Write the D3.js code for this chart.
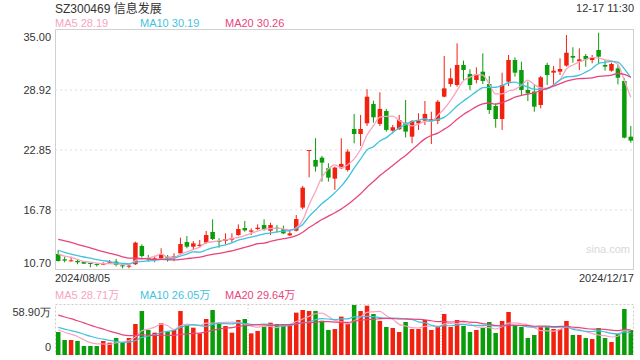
<!DOCTYPE html>
<html>
<head>
<meta charset="utf-8">
<script src="https://cdn.jsdelivr.net/npm/d3@7/dist/d3.min.js"></script>
<style>
  body { margin: 0; background: #fff; }
  svg { display: block; font-family: "Liberation Sans", Arial, "Noto Sans CJK SC", sans-serif; }
</style>
</head>
<body>
<svg id="chart" width="640" height="360"></svg>
<script>
// 价格刻度、成交量刻度、日期标签
const priceTicks = [10.70, 16.78, 22.85, 28.92, 35.00];
const volTicks = [0, 58.90];
const dateLabels = ['2024/08/05', '2024/12/17'];
// 图例上显示的最新均线值
const priceMALast = [28.19, 30.19, 30.26];
const volMALast = [28.71, 26.05, 29.64];

// 日K数据（2024/08/05 - 2024/12/17，90个交易日）
const opens = [12.32, 11.78, 11.62, 11.61, 11.55, 11.41, 11.31, 11.28, 11.41, 11.55,
  11.17, 11.04, 11.28, 13.13, 11.92, 11.78, 11.88, 12.05, 11.90, 12.39,
  13.53, 13.06, 13.13, 13.47, 14.55, 13.64, 13.64, 13.77, 14.24, 14.95,
  14.58, 14.85, 15.25, 14.68, 14.98, 14.82, 14.21, 14.68, 17.02, 22.85,
  21.84, 22.08, 21.00, 19.95, 21.00, 20.83, 24.98, 24.47, 25.55, 27.51,
  25.49, 26.80, 24.81, 24.95, 25.62, 24.20, 25.55, 25.82, 25.89, 25.82,
  28.25, 29.53, 29.43, 31.46, 30.55, 29.94, 30.78, 29.53, 27.31, 25.99,
  29.77, 31.96, 30.95, 28.93, 28.76, 27.41, 31.46, 30.68, 30.78, 31.39,
  32.37, 31.83, 32.37, 31.96, 32.98, 31.46, 30.88, 31.12, 29.84, 24.20];
const highs = [12.73, 12.05, 12.05, 11.71, 11.58, 11.41, 11.34, 11.48, 11.71, 11.82,
  11.28, 11.34, 13.57, 13.30, 12.22, 12.15, 12.90, 12.22, 12.40, 13.97,
  14.14, 13.63, 13.74, 14.65, 15.83, 13.91, 14.41, 14.41, 15.32, 15.66,
  14.92, 15.32, 15.83, 15.49, 15.25, 15.19, 14.68, 16.27, 19.21, 22.85,
  24.04, 22.25, 21.51, 21.17, 24.04, 22.92, 26.50, 26.40, 29.00, 27.85,
  28.69, 27.01, 25.39, 26.40, 27.91, 25.89, 26.56, 27.81, 26.73, 27.91,
  32.37, 31.12, 33.65, 31.90, 31.02, 31.22, 32.64, 30.34, 27.58, 30.68,
  32.47, 32.23, 31.79, 29.77, 29.43, 30.34, 31.69, 31.36, 32.13, 34.49,
  33.25, 33.14, 32.57, 32.47, 34.73, 31.96, 31.69, 31.46, 30.11, 25.28];
const lows = [11.55, 11.48, 11.55, 11.28, 11.31, 10.97, 11.04, 11.21, 11.34, 11.07,
  10.87, 10.87, 11.21, 11.95, 11.61, 11.48, 11.78, 11.55, 11.60, 12.32,
  12.89, 12.79, 12.99, 13.33, 13.74, 12.96, 13.33, 13.47, 14.17, 14.58,
  14.24, 14.75, 14.68, 14.24, 14.48, 14.34, 14.14, 14.60, 16.85, 20.09,
  20.66, 19.65, 19.65, 18.81, 20.93, 20.66, 23.53, 23.26, 25.28, 25.62,
  25.28, 24.71, 24.71, 24.88, 24.13, 23.53, 24.88, 25.38, 23.46, 25.48,
  28.18, 29.26, 29.26, 29.94, 28.93, 29.60, 29.53, 26.50, 25.11, 24.88,
  29.33, 30.28, 28.42, 27.81, 26.73, 27.07, 29.43, 29.53, 30.44, 31.29,
  31.69, 30.95, 31.29, 31.63, 31.63, 30.88, 30.78, 29.50, 24.03, 23.59];
const closes = [11.61, 11.65, 11.68, 11.48, 11.34, 11.31, 11.21, 11.34, 11.48, 11.21,
  11.07, 11.14, 13.47, 12.12, 11.78, 11.88, 12.32, 11.88, 12.10, 13.33,
  13.06, 13.40, 13.26, 14.24, 13.84, 13.54, 13.84, 13.94, 14.85, 14.71,
  14.71, 14.98, 14.85, 15.25, 14.88, 14.41, 14.41, 15.86, 19.04, 22.85,
  21.17, 21.57, 20.05, 21.07, 21.44, 22.69, 24.47, 24.98, 28.25, 26.16,
  27.01, 24.88, 25.15, 25.89, 24.71, 25.79, 25.82, 26.50, 25.96, 27.74,
  29.09, 30.11, 31.46, 30.95, 29.43, 30.51, 29.84, 26.90, 25.99, 29.43,
  31.96, 30.68, 28.93, 28.59, 27.24, 30.21, 30.44, 30.88, 31.05, 32.70,
  32.20, 32.03, 32.03, 32.23, 32.30, 31.29, 31.56, 30.17, 24.10, 23.80];
// 成交量（万手）
const volumes = [27.1, 17.7, 17.7, 16.5, 10.6, 10.6, 10.6, 16.5, 14.5, 20.0,
  14.5, 20.0, 36.5, 51.8, 29.5, 26.3, 37.3, 27.5, 29.5, 51.8,
  35.3, 32.2, 25.5, 42.4, 53.0, 37.3, 34.2, 26.3, 41.2, 42.4,
  25.5, 28.3, 33.4, 38.1, 36.5, 36.5, 36.5, 49.9, 53.0, 51.8,
  51.8, 40.4, 29.5, 30.6, 45.2, 37.3, 58.9, 51.8, 58.1, 48.3,
  40.1, 33.0, 31.8, 27.1, 38.9, 30.6, 30.6, 41.2, 29.5, 33.4,
  48.3, 33.0, 41.2, 34.2, 27.1, 29.5, 31.8, 38.9, 25.9, 40.1,
  50.7, 34.2, 33.0, 20.0, 23.6, 33.0, 33.0, 30.6, 30.6, 40.1,
  23.6, 23.6, 20.0, 18.8, 31.8, 20.0, 15.3, 24.7, 54.2, 29.5];
// 区间之前的19个交易日，用来算均线起点
const priorCloses = [14.6, 15.0, 15.3, 15.1, 14.9, 15.2, 14.8, 14.7, 14.5, 14.9,
  13.9, 13.4, 13.0, 12.7, 12.5, 12.6, 12.4, 12.5, 12.4];
const priorVolumes = [62, 58, 66, 60, 64, 59, 61, 63, 60, 61,
  38, 36, 35, 35, 34.5, 31, 30, 29.4, 30];

const maDefs = [
  { n: 5, color: '#f9a3c3' },
  { n: 10, color: '#3fc3df' },
  { n: 20, color: '#e9457c' }
];
const red = '#f2210f';
const green = '#0a9d0a';

const svg = d3.select('#chart');
const left = 55, right = 634;
const priceTop = 30, priceBottom = 270;
const volTop = 305, volBottom = 355;

// 移动平均
function movingAvg(prior, data, n) {
  const all = prior.concat(data);
  return data.map((d, i) => {
    const end = prior.length + i + 1;
    return d3.mean(all.slice(end - n, end));
  });
}

const idx = d3.range(closes.length);
const x = d3.scaleBand().domain(idx).range([left, right]).paddingInner(0.3).paddingOuter(0.15);
const cx = i => x(i) + x.bandwidth() / 2;
const yP = d3.scaleLinear().domain([priceTicks[0], priceTicks[4]]).range([priceBottom, priceTop]);
const yV = d3.scaleLinear().domain([volTicks[0], volTicks[1]]).range([volBottom, volTop]);
const isUp = i => closes[i] >= opens[i];

// 标题行
svg.append('text').attr('x', 55).attr('y', 13).attr('font-size', 12).attr('fill', '#333')
  .text('SZ300469 信息发展');
svg.append('text').attr('x', 634).attr('y', 12).attr('font-size', 11).attr('fill', '#333')
  .attr('text-anchor', 'end').text('12-17 11:30');

const priceMA = maDefs.map(m => movingAvg(priorCloses, closes, m.n));
const volMA = maDefs.map(m => movingAvg(priorVolumes, volumes, m.n));
const legendX = [55, 140, 225];
maDefs.forEach((m, k) => {
  svg.append('text').attr('x', legendX[k]).attr('y', 27).attr('font-size', 11).attr('fill', m.color)
    .text(`MA${m.n} ${priceMALast[k].toFixed(2)}`);
  svg.append('text').attr('x', legendX[k]).attr('y', 299).attr('font-size', 11).attr('fill', m.color)
    .text(`MA${m.n} ${volMALast[k].toFixed(2)}万`);
});

// 价格区网格与边框
const gP = svg.append('g');
gP.selectAll('line.grid').data(priceTicks.slice(1, 4)).enter().append('line')
  .attr('x1', left).attr('x2', right).attr('y1', d => yP(d)).attr('y2', d => yP(d))
  .attr('stroke', '#ddd').attr('stroke-dasharray', '2,3');
gP.append('rect').attr('x', left + 0.5).attr('y', priceTop - 0.5)
  .attr('width', right - left - 1).attr('height', priceBottom - priceTop)
  .attr('fill', 'none').attr('stroke', '#d0d0d0');

// 价格轴
const yAxis = d3.axisLeft(yP).tickValues(priceTicks).tickSize(0).tickPadding(4)
  .tickFormat(d => d.toFixed(2));
svg.append('g').attr('transform', `translate(${left},0)`).call(yAxis)
  .call(g => g.select('.domain').remove())
  .selectAll('.tick text')
  .attr('fill', '#333').attr('font-size', 11)
  .attr('dy', (d, i) => i === 0 ? '-0.35em' : (i === 4 ? '0.95em' : '0.32em'));

// 水印
svg.append('text').attr('x', 630).attr('y', 253).attr('text-anchor', 'end')
  .attr('font-size', 11).attr('fill', '#d8d8d8').text('sina.com');

// K线
const candles = svg.append('g');
candles.selectAll('line.wick').data(idx).enter().append('line')
  .attr('x1', cx).attr('x2', cx)
  .attr('y1', i => yP(highs[i])).attr('y2', i => yP(lows[i]))
  .attr('stroke', i => isUp(i) ? red : green).attr('stroke-width', 1);
candles.selectAll('rect').data(idx).enter().append('rect')
  .attr('x', i => x(i)).attr('width', x.bandwidth())
  .attr('y', i => yP(Math.max(opens[i], closes[i])))
  .attr('height', i => Math.max(1, Math.abs(yP(opens[i]) - yP(closes[i]))))
  .attr('fill', i => isUp(i) ? red : green);

// 均线
maDefs.forEach((m, k) => {
  const line = d3.line().x((d, i) => cx(i)).y(d => yP(d)).curve(d3.curveMonotoneX);
  svg.append('path').attr('d', line(priceMA[k])).attr('fill', 'none')
    .attr('stroke', m.color).attr('stroke-width', 1.3);
});

// 日期
svg.append('text').attr('x', left).attr('y', 282).attr('font-size', 11).attr('fill', '#333').text(dateLabels[0]);
svg.append('text').attr('x', right).attr('y', 282).attr('font-size', 11).attr('fill', '#333')
  .attr('text-anchor', 'end').text(dateLabels[1]);

// 成交量区
const gV = svg.append('g');
[left + (right - left) / 3, left + 2 * (right - left) / 3].forEach(vx => {
  gV.append('line').attr('x1', vx).attr('x2', vx).attr('y1', volTop).attr('y2', volBottom)
    .attr('stroke', '#ccc').attr('stroke-dasharray', '1,2');
});
gV.append('rect').attr('x', left + 0.5).attr('y', volTop - 0.5)
  .attr('width', right - left - 1).attr('height', volBottom - volTop)
  .attr('fill', 'none').attr('stroke', '#ccc').attr('stroke-dasharray', '2,2');

const vAxis = d3.axisLeft(yV).tickValues(volTicks).tickSize(0).tickPadding(4)
  .tickFormat(d => d === 0 ? '0' : d.toFixed(2) + '万');
svg.append('g').attr('transform', `translate(${left},0)`).call(vAxis)
  .call(g => g.select('.domain').remove())
  .selectAll('.tick text')
  .attr('fill', '#333').attr('font-size', 11)
  .attr('dy', (d, i) => i === 0 ? '-0.4em' : '0.95em');

gV.selectAll('rect.bar').data(idx).enter().append('rect').attr('class', 'bar')
  .attr('x', i => x(i)).attr('width', x.bandwidth())
  .attr('y', i => yV(volumes[i])).attr('height', i => volBottom - yV(volumes[i]))
  .attr('fill', i => isUp(i) ? red : green);

maDefs.forEach((m, k) => {
  const line = d3.line().x((d, i) => cx(i)).y(d => yV(d)).curve(d3.curveMonotoneX);
  gV.append('path').attr('d', line(volMA[k])).attr('fill', 'none')
    .attr('stroke', m.color).attr('stroke-width', 1.2);
});
</script>
</body>
</html>
